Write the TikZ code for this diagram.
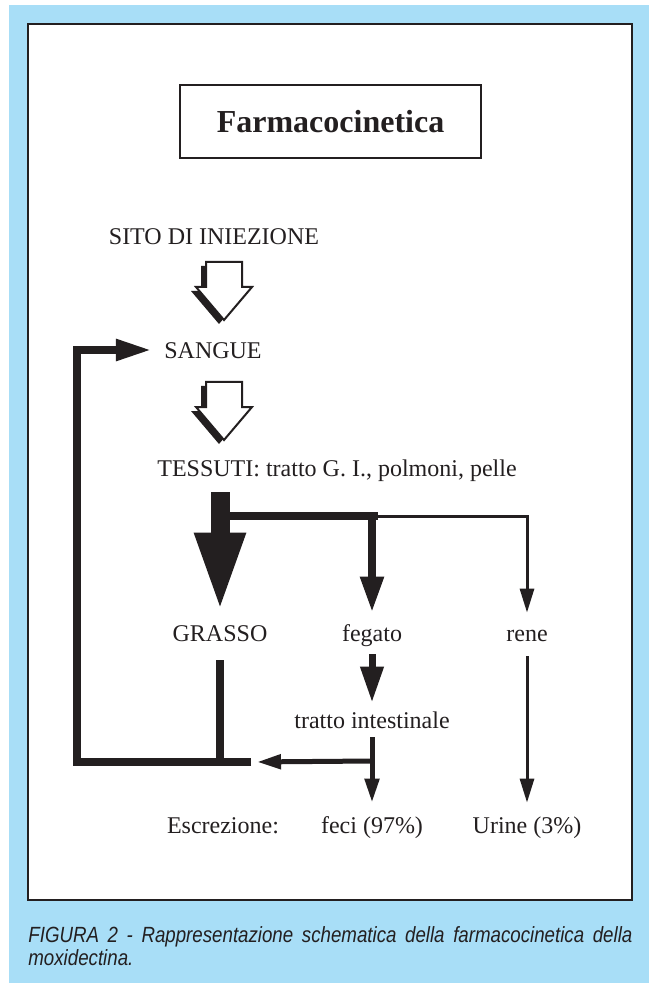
\documentclass[tikz,border=0pt]{standalone}
\usepackage{fontspec}
\setmainfont{Liberation Serif}
\newfontfamily\capfont[FakeStretch=0.85]{Liberation Sans}
\usetikzlibrary{arrows.meta}
\definecolor{bgblue}{RGB}{168,222,247}
\definecolor{ink}{RGB}{35,31,32}

\begin{document}
\begin{tikzpicture}[x=0.5pt,y=-0.5pt]
\tikzset{lbl/.style={anchor=base,inner sep=0pt,text height=8.5pt,text depth=2.5pt,text=ink,font=\fontsize{12}{14}\selectfont},
  fat/.style={draw=ink,line width=4pt},
  stub/.style={draw=ink,line width=9.5pt,-{Triangle[length=40pt,width=23pt]}},
  fathead/.style={fat,-{Triangle[length=18pt,width=11pt]}},
  med/.style={draw=ink,line width=2.5pt,-{Triangle[length=12pt,width=7pt]}},
  thin/.style={draw=ink,line width=1.5pt,-{Triangle[length=12pt,width=7pt]}},
  hollow/.style={fill=white,draw=ink,line width=1pt,line join=miter}};
   \useasboundingbox (0,0) rectangle (655,983);
   \fill[white] (0,0) rectangle (655,983);
   \fill[bgblue] (9,5) rectangle (649,983);
   \draw[fill=white,draw=ink,line width=1pt] (28,24) rectangle (632,900);

   \node[draw=ink,line width=1pt,minimum width=150.5pt,minimum height=36.5pt,text=ink,
     font=\fontsize{16}{18}\selectfont\bfseries] (title) at (330.5,121.5) {Farmacocinetica};

   \node[lbl] (sito) at (214,245) {SITO DI INIEZIONE};
   \node[lbl] (sangue) at (213,359) {SANGUE};
   \node[lbl] (tessuti) at (337,476) {TESSUTI: tratto G. I., polmoni, pelle};
   \node[lbl] (grasso) at (220,641) {GRASSO};
   \node[lbl] (fegato) at (372,641) {fegato};
   \node[lbl] (rene) at (527,641) {rene};
   \node[lbl] (tratto) at (372,728) {tratto intestinale};
   \node[lbl] (escr) at (223,833) {Escrezione:};
   \node[lbl] (feci) at (372,833) {feci (97\%)};
   \node[lbl] (urine) at (527,833) {Urine (3\%)};

   % hollow arrows
   \begin{scope}[shift={(224,262)}]
     \fill[ink,shift={(-5,4)}] (-18,0) -- (18,0) -- (18,25) -- (28,25) -- (0,58) -- (-28,25) -- (-18,25) -- cycle;
     \draw[hollow] (-18,0) -- (18,0) -- (18,25) -- (28,25) -- (0,58) -- (-28,25) -- (-18,25) -- cycle;
   \end{scope}
   \begin{scope}[shift={(224,382)}]
     \fill[ink,shift={(-5,4)}] (-18,0) -- (18,0) -- (18,25) -- (28,25) -- (0,58) -- (-28,25) -- (-18,25) -- cycle;
     \draw[hollow] (-18,0) -- (18,0) -- (18,25) -- (28,25) -- (0,58) -- (-28,25) -- (-18,25) -- cycle;
   \end{scope}

   \coordinate (br) at (220,492);
   \coordinate (bj) at (220,516);
   \coordinate (fj) at (372,516);
   \coordinate (rj) at (527,516);
   \coordinate (tj) at (372,761);
   \coordinate (be) at (251,762);
   \coordinate (lc) at (77,762);
   \coordinate (uc) at (77,350);

   \draw[stub,shorten >=5.5pt] (br) -- (br |- grasso.north);
   \draw[fat] (bj) -- ([xshift=3pt]fj);
   \draw[fathead,shorten >=5.5pt] (fj) -- (fegato.north);
   \draw[thin,shorten >=5.5pt] (fj) -- (rj) -- (rene.north);

   \draw[fathead,line width=3.5pt,shorten <=4pt,shorten >=4pt] (fegato.south) -- (tratto.north);
   \draw[med,shorten <=2pt,shorten >=6.5pt] (tratto.south) -- (feci.north);
   \draw[med,shorten >=3pt] (tj) -- (be);
   \draw[thin,shorten <=5pt,shorten >=6.5pt] (rene.south) -- (urine.north);

   \draw[fat,shorten <=7pt] (grasso.south) -- (grasso.south |- be);
   \draw[fat,-{Triangle[length=18pt,width=10pt]},shorten >=6pt] (be) -- (lc) -- (uc) -- (uc -| sangue.west);

   \node[anchor=north west,inner sep=0pt,text width=302pt,align=justify,text=ink,
     font=\capfont\itshape\fontsize{11}{11.5}\selectfont] (caption) at (28,926)
     {\hyphenpenalty=10000 FIGURA 2 - Rappresentazione schematica della farmacocinetica della\linebreak moxidectina.};
 \end{tikzpicture}
\end{document}
